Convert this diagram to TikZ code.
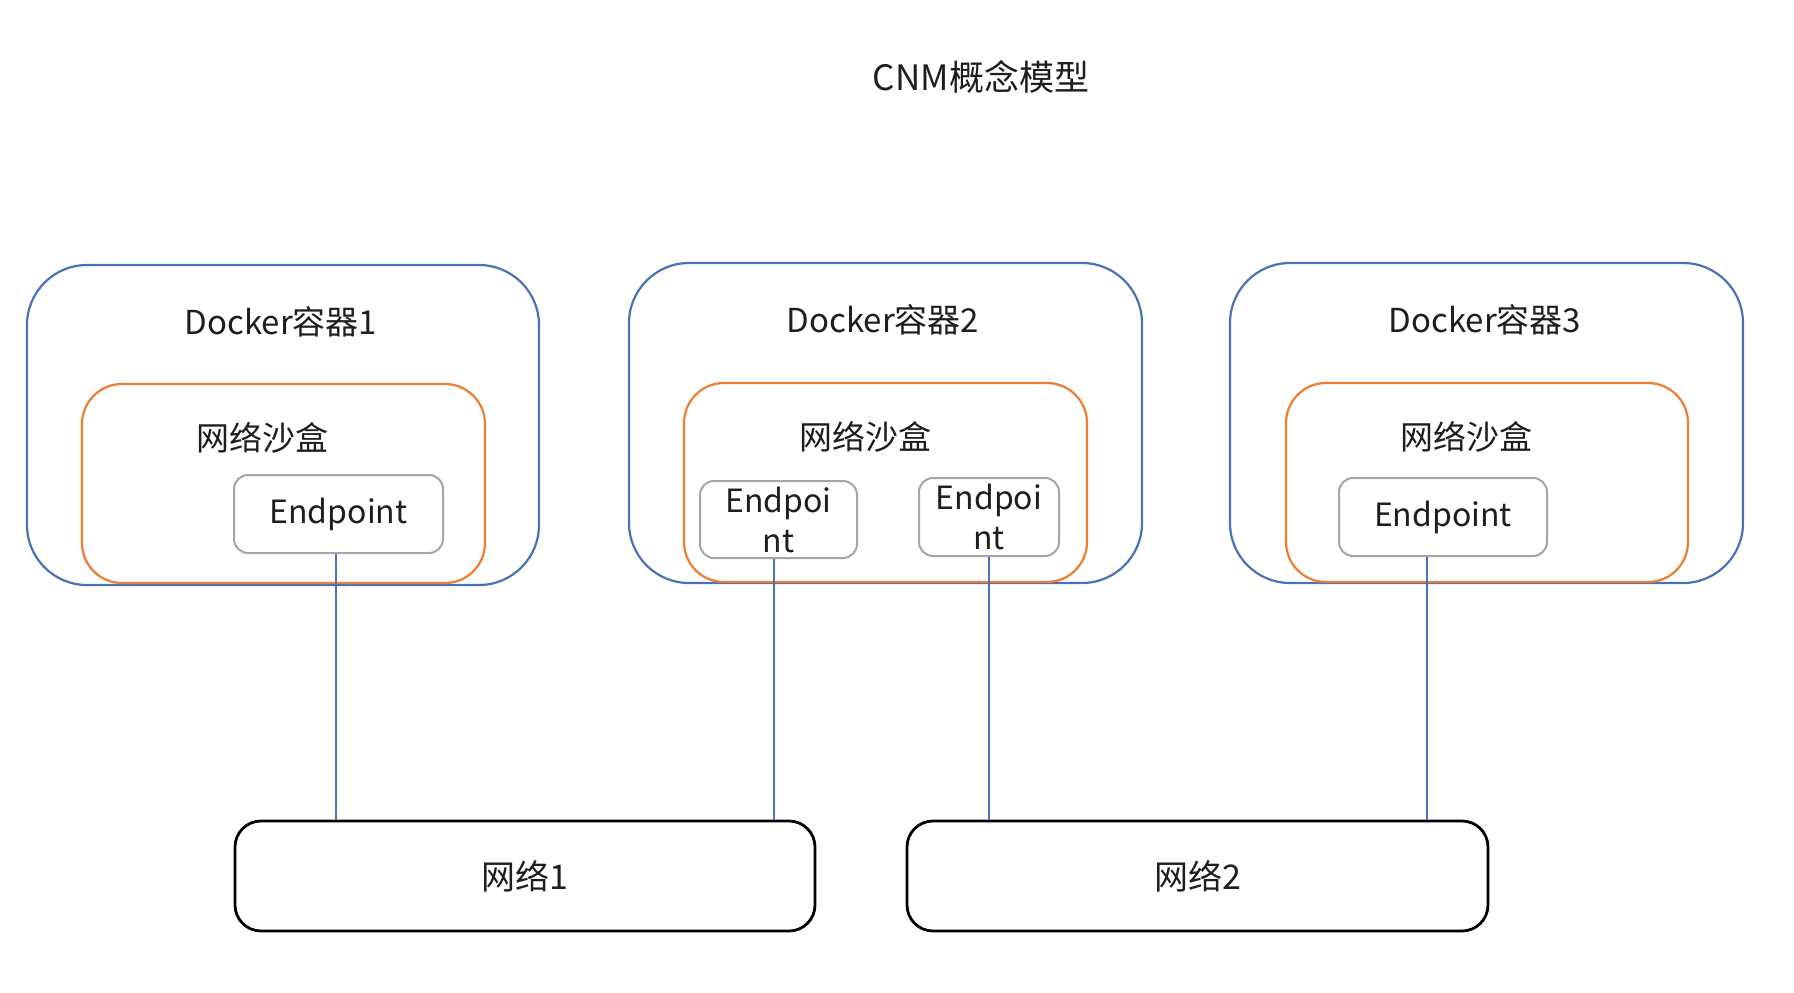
\documentclass[tikz,border=0pt]{standalone}
\usepackage{fontspec}
\setmainfont{Noto Sans CJK SC}
\definecolor{oblue}{HTML}{4A72B8}
\definecolor{oorange}{HTML}{ED7D31}
\definecolor{ogray}{HTML}{A5A5A5}
\definecolor{txt}{HTML}{1E1E1E}
\tikzset{
  container/.style={draw=oblue, line width=2.2pt, rounded corners=60pt, inner sep=0pt},
  sandbox/.style={draw=oorange, line width=2.2pt, rounded corners=40pt, inner sep=0pt},
  epbox/.style={draw=ogray, line width=2pt, rounded corners=14pt, inner sep=0pt, text=txt, font=\fontsize{32pt}{40pt}\selectfont, align=center},
  netbox/.style={draw=black, line width=2.8pt, rounded corners=26pt, inner sep=0pt, text=txt, font=\fontsize{34pt}{40pt}\selectfont},
  lbl/.style={text=txt, font=\fontsize{33pt}{40pt}\selectfont, inner sep=0pt},
  titlelbl/.style={text=txt, font=\fontsize{35pt}{40pt}\selectfont, inner sep=0pt},
  link/.style={draw=oblue, line width=2pt}
}
\begin{document}
\begin{tikzpicture}[x=1pt,y=-1pt]
\useasboundingbox[fill=white] (0,0) rectangle (1794,993);
\node[titlelbl] (title) at (981,77) {CNM概念模型};
% containers
\node[container, minimum width=512pt, minimum height=320pt] (c1) at (283,425) {};
\node[container, minimum width=513pt, minimum height=320pt] (c2) at (885.5,423) {};
\node[container, minimum width=513pt, minimum height=320pt] (c3) at (1486.5,423) {};
% sandboxes
\node[sandbox, minimum width=403pt, minimum height=199pt] (s1) at (283.5,483.5) {};
\node[sandbox, minimum width=403pt, minimum height=199pt] (s2) at (885.5,482.5) {};
\node[sandbox, minimum width=402pt, minimum height=199pt] (s3) at (1487,482.5) {};
% labels
\node[lbl] (c1l) at (281,322) {Docker容器1};
\node[lbl] (c2l) at (883,320) {Docker容器2};
\node[lbl] (c3l) at (1485,320) {Docker容器3};
\node[lbl] (s1l) at (262,438) {网络沙盒};
\node[lbl] (s2l) at (865,437) {网络沙盒};
\node[lbl] (s3l) at (1466,437) {网络沙盒};
% endpoints
\node[epbox, minimum width=209pt, minimum height=78pt] (e1) at (338.5,514) {Endpoint};
\node[epbox, minimum width=157pt, minimum height=77pt] (e2) at (778.5,519.5) {Endpoi\\nt};
\node[epbox, minimum width=140pt, minimum height=78pt] (e3) at (989,517) {Endpoi\\nt};
\node[epbox, minimum width=208pt, minimum height=78pt] (e4) at (1443,517) {Endpoint};
% networks
\node[netbox, minimum width=580pt, minimum height=110pt] (n1) at (525,876) {网络1};
\node[netbox, minimum width=581pt, minimum height=110pt] (n2) at (1197.5,876) {网络2};
% links
\coordinate (e1b) at ([xshift=-2.5pt]e1.south);
\coordinate (e2b) at ([xshift=-5pt]e2.south);
\coordinate (e4b) at ([xshift=-16pt]e4.south);
\draw[link] (e1b) -- (e1b |- n1.north);
\draw[link] (e2b) -- (e2b |- n1.north);
\draw[link] (e3.south) -- (e3.south |- n2.north);
\draw[link] (e4b) -- (e4b |- n2.north);
\end{tikzpicture}
\end{document}
